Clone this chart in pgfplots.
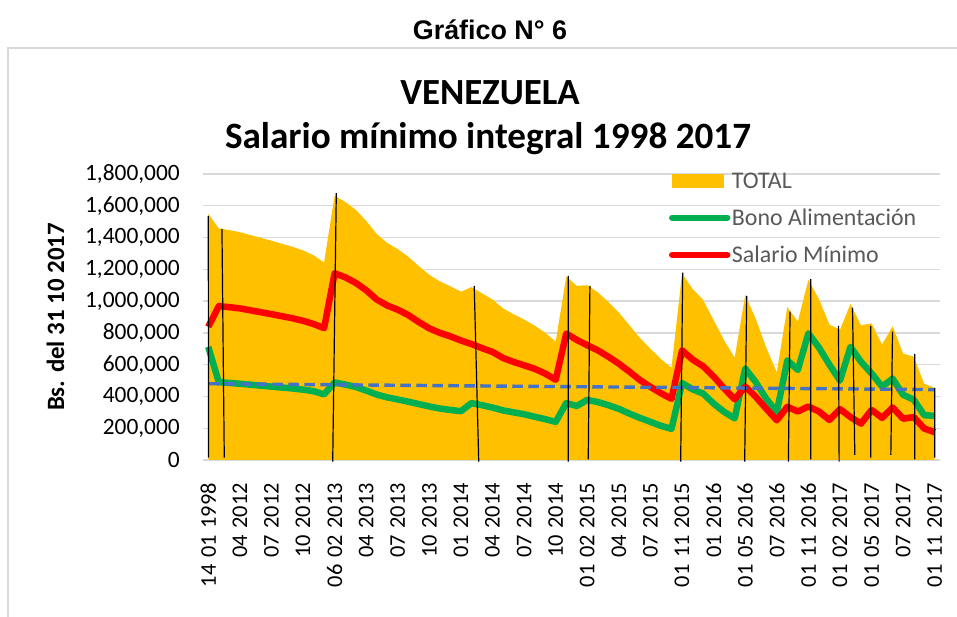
\documentclass[border=0pt]{standalone}
\usepackage{fontspec}
\setmainfont{Carlito}
\newfontfamily\arialfont{Liberation Sans}
\usepackage{pgfplots}
\pgfplotsset{compat=1.18}
\usepackage{pgfplotstable}
\definecolor{totc}{HTML}{FFC000}
\definecolor{bonoc}{HTML}{00B050}
\definecolor{salc}{HTML}{FF0000}
\definecolor{trendc}{HTML}{4472C4}
\definecolor{gridc}{HTML}{D9D9D9}
\definecolor{legc}{HTML}{595959}

\pgfplotstableread{
i sal bono total
0 838000 712000 1550000
1 968000 490000 1458000
2 962000 485000 1447000
3 954000 480000 1434000
4 942000 474000 1416000
5 930000 468000 1398000
6 918000 462000 1380000
7 905000 456000 1361000
8 892000 450000 1342000
9 876000 443000 1319000
10 856000 433000 1289000
11 830000 413000 1243000
12 1175000 488000 1663000
13 1150000 475000 1625000
14 1115000 460000 1575000
15 1068000 437000 1505000
16 1010000 412000 1422000
17 972000 394000 1366000
18 946000 381000 1327000
19 912000 367000 1279000
20 868000 352000 1220000
21 828000 337000 1165000
22 800000 324000 1124000
23 778000 315000 1093000
24 752000 307000 1059000
25 730000 358000 1088000
26 704000 345000 1049000
27 680000 330000 1010000
28 642000 312000 954000
29 617000 300000 917000
30 596000 288000 884000
31 574000 272000 846000
32 544000 257000 801000
33 505000 240000 745000
34 796000 358000 1154000
35 756000 340000 1096000
36 722000 378000 1100000
37 690000 365000 1055000
38 650000 345000 995000
39 606000 322000 928000
40 556000 292000 848000
41 503000 265000 768000
42 460000 240000 700000
43 420000 215000 635000
44 385000 196000 581000
45 690000 484000 1174000
46 632000 445000 1077000
47 590000 418000 1008000
48 525000 355000 880000
49 450000 303000 753000
50 382000 262000 644000
51 462000 576000 1038000
52 398000 490000 888000
53 322000 385000 707000
54 250000 302000 552000
55 335000 627000 962000
56 305000 567000 872000
57 337000 797000 1134000
58 305000 708000 1013000
59 252000 600000 852000
60 320000 500000 820000
61 270000 712000 982000
62 229000 618000 847000
63 315000 545000 860000
64 265000 462000 727000
65 330000 512000 842000
66 260000 410000 670000
67 270000 380000 650000
68 198000 282000 480000
69 175000 278000 453000
}\datatable

\begin{document}
\begin{tikzpicture}
\useasboundingbox (0,0) rectangle (957bp,617bp);
\fill[white] (0,0) rectangle (957bp,617bp);
\draw[gridc, line width=1.5bp] (8bp,-20bp) rectangle (990bp,569bp);
\begin{axis}[
  at={(203bp,157bp)}, anchor=south west,
  width=737bp, height=286bp, scale only axis,
  xmin=-0.5, xmax=69.5, ymin=0, ymax=1800000,
  clip=false,
  axis line style={draw=none},
  major tick length=0pt,
  ymajorgrids, grid style={gridc, line width=1.4bp},
  xtick={0,3,...,69},
  xticklabels={14 01 1998, 04 2012, 07 2012, 10 2012, 06 02 2013, 04 2013, 07 2013, 10 2013, 01 2014, 04 2014, 07 2014, 10 2014, 01 02 2015, 04 2015, 07 2015, 01 11 2015, 01 2016, 01 05 2016, 07 2016, 01 11 2016, 01 02 2017, 01 05 2017, 07 2017, 01 11 2017},
  ytick={0,200000,...,1800000},
  scaled y ticks=false,
  /pgf/number format/assume math mode=true,
  yticklabel style={/pgf/number format/fixed, /pgf/number format/precision=0, /pgf/number format/1000 sep={,}, font=\fontsize{23.5}{28}\selectfont, inner sep=0pt},
  yticklabel shift=23bp,
  xticklabel style={font={\fontsize{22.5}{27}\selectfont\spaceskip=6.5bp\relax}, rotate=90, anchor=east, inner sep=0pt},
  xticklabel shift=23bp,
  ylabel={Bs. del 31 10 2017},
  ylabel style={font=\bfseries\fontsize{25}{30}\selectfont, at={(axis description cs:-0.2,0.5)}, anchor=center},
  legend cell align=left,
  legend style={at={(axis description cs:0.632,1.012)}, anchor=north west, draw=none, fill=none,
    font=\fontsize{24}{29}\selectfont, text=legc, row sep=15bp, inner sep=0pt,
    nodes={inner xsep=1.5bp}},
]
\addplot[fill=totc, draw=none, legend image code/.code={\fill[totc] (0bp,-7bp) rectangle (52bp,7bp);}] table[x=i,y=total]{\datatable} \closedcycle;
\addplot[bonoc, line width=6.5bp, line join=round, legend image code/.code={\draw[line cap=round] (0bp,0bp) -- (55bp,0bp);}] table[x=i,y=bono]{\datatable};
\addplot[salc, line width=6.5bp, line join=round, legend image code/.code={\draw[line cap=round] (0bp,0bp) -- (55bp,0bp);}] table[x=i,y=sal]{\datatable};
\addplot[trendc, line width=3.4bp, dash pattern=on 10.5bp off 5.5bp, forget plot] coordinates {(0,480000) (69,443000)};
\addplot[black, line width=1.2bp, forget plot, unbounded coords=jump] coordinates {
(0.03,14500) (0.0,1537000) (0.5,nan)
(1.52,14500) (1.3,1453000) (1.5,nan)
(11.82,-10700) (12.16,1680000) (12.5,nan)
(25.69,-10700) (25.26,1096000) (25.5,nan)
(34.19,-10700) (34.19,1159000) (34.5,nan)
(36.09,4400) (36.25,1096000) (36.5,nan)
(44.87,-10700) (45.06,1180000) (45.5,nan)
(50.95,-10700) (51.14,1033000) (51.5,nan)
(55.1,-10700) (55.26,934000) (55.5,nan)
(57.22,4400) (57.22,1138000) (57.5,nan)
(59.92,-10700) (59.86,844000) (60.2,nan)
(61.41,31500) (61.19,959000) (61.6,nan)
(62.93,14500) (62.93,844000) (63.5,nan)
(64.83,31500) (64.99,808000) (65.5,nan)
(67.1,4400) (67.1,668000) (67.5,nan)
(69,14500) (69,452000)
};
\legend{TOTAL, Bono Alimentación, Salario Mínimo}
\end{axis}
\node[font=\arialfont\bfseries\fontsize{27}{32}\selectfont] at (490bp,587bp) {Gráfico N° 6};
\node[font=\bfseries\fontsize{37}{44}\selectfont] at (490bp,524bp) {VENEZUELA};
\node[font=\bfseries\fontsize{37.3}{44}\selectfont] at (488bp,478bp) {Salario mínimo integral 1998 2017};
\end{tikzpicture}
\end{document}
